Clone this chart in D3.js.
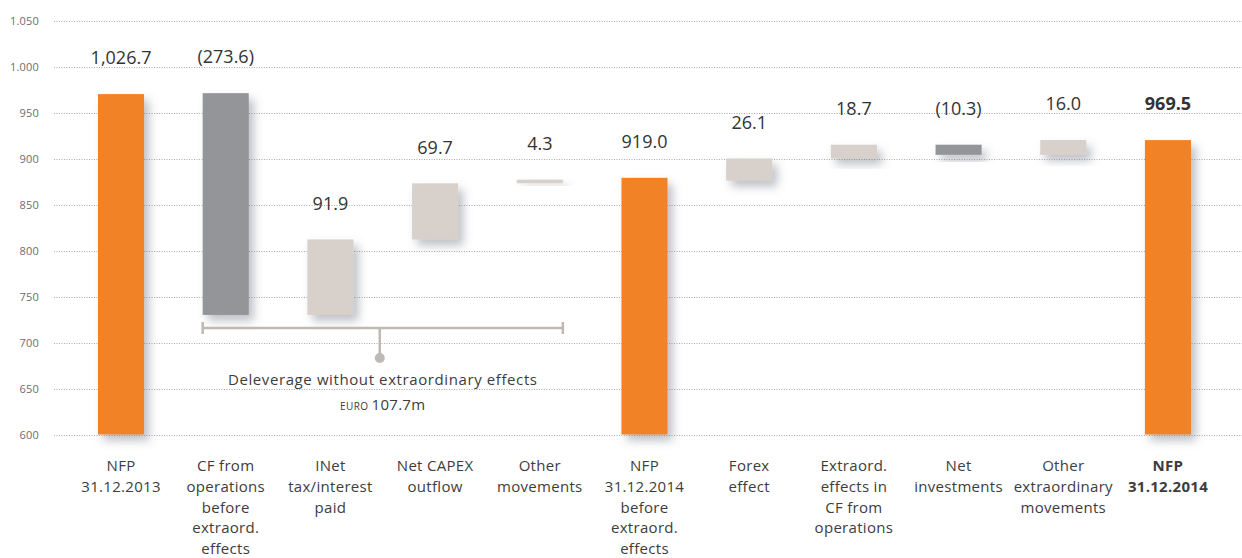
<!DOCTYPE html>
<html>
<head>
<meta charset="utf-8">
<script src="https://cdn.jsdelivr.net/npm/d3@7"></script>
<style>
  html, body { margin: 0; padding: 0; background: #fff; }
  svg { display: block; font-family: "Open Sans", sans-serif; }
</style>
</head>
<body>
<svg id="chart" width="1242" height="558"></svg>
<script>
// ---- data ----
const categories = ["NFP 31.12.2013", "CF from operations before extraord. effects", "INet tax/interest paid",
  "Net CAPEX outflow", "Other movements", "NFP 31.12.2014 before extraord. effects", "Forex effect",
  "Extraord. effects in CF from operations", "Net investments", "Other extraordinary movements", "NFP 31.12.2014"];
const categoryLines = [
  ["NFP", "31.12.2013"],
  ["CF from", "operations", "before", "extraord.", "effects"],
  ["INet", "tax/interest", "paid"],
  ["Net CAPEX", "outflow"],
  ["Other", "movements"],
  ["NFP", "31.12.2014", "before", "extraord.", "effects"],
  ["Forex", "effect"],
  ["Extraord.", "effects in", "CF from", "operations"],
  ["Net", "investments"],
  ["Other", "extraordinary", "movements"],
  ["NFP", "31.12.2014"]
];
const barLow  = [600, 730, 730, 812, 873, 600, 876, 900, 904, 904, 600];
const barHigh = [970, 971, 812, 873, 877, 879, 900, 915, 915, 920, 920];
const barKind = ["total", "negative", "positive", "positive", "positive", "total", "positive", "positive", "negative", "positive", "total"];
const valueLabels = ["1,026.7", "(273.6)", "91.9", "69.7", "4.3", "919.0", "26.1", "18.7", "(10.3)", "16.0", "969.5"];
const yTicks = [600, 650, 700, 750, 800, 850, 900, 950, 1000, 1050];
const yTickLabels = ["600", "650", "700", "750", "800", "850", "900", "950", "1.000", "1.050"];
const bracketFrom = 1, bracketTo = 4;
const bracketText = "Deleverage without extraordinary effects";
const bracketUnit = "EURO";
const bracketValue = "107.7m";

// ---- layout ----
const W = 1242, H = 558;
const svg = d3.select("#chart");
const x = d3.scaleBand().domain(categories).range([98, 1191]).paddingInner(0.56).paddingOuter(0);
const y = d3.scaleLinear().domain([600, 1050]).range([434.5, 20.5]);
const colors = { total: "#F28227", negative: "#949598", positive: "#D8D0CA" };

const defs = svg.append("defs");
const f = defs.append("filter").attr("id", "shadow").attr("x", "-50%").attr("y", "-50%").attr("width", "220%").attr("height", "220%");
f.append("feDropShadow").attr("dx", 5).attr("dy", 6).attr("stdDeviation", 5)
  .attr("flood-color", "#6f7580").attr("flood-opacity", 0.45);

// gridlines + y labels
const yAxis = d3.axisLeft(y).tickValues(yTicks).tickFormat((d, i) => yTickLabels[i]).tickSize(0).tickPadding(0);
const gy = svg.append("g").attr("transform", "translate(39,0)").call(yAxis);
gy.select(".domain").remove();
gy.selectAll("text").attr("font-size", 11).attr("fill", "#6d6d6d").attr("font-family", "Open Sans, sans-serif")
  .attr("letter-spacing", "0.2px").attr("dy", "0.35em");

svg.append("g").selectAll("line").data(yTicks).join("line")
  .attr("x1", 54).attr("x2", W)
  .attr("y1", d => Math.round(y(d)) + 0.5).attr("y2", d => Math.round(y(d)) + 0.5)
  .attr("stroke", "#a9a9a9").attr("stroke-width", 1).attr("stroke-dasharray", "1,1.5");

// bars
svg.append("g").selectAll("rect").data(categories).join("rect")
  .attr("x", d => x(d))
  .attr("width", x.bandwidth())
  .attr("y", (d, i) => y(barHigh[i]))
  .attr("height", (d, i) => y(barLow[i]) - y(barHigh[i]))
  .attr("fill", (d, i) => colors[barKind[i]])
  .attr("filter", "url(#shadow)");

// value labels
svg.append("g").selectAll("text").data(categories).join("text")
  .attr("x", d => x(d) + x.bandwidth() / 2)
  .attr("y", (d, i) => y(barHigh[i]) - 36)
  .attr("dy", "0.35em")
  .attr("text-anchor", "middle")
  .attr("font-size", 18)
  .attr("font-weight", (d, i) => i === categories.length - 1 ? 700 : 400)
  .attr("fill", "#333")
  .text((d, i) => valueLabels[i]);

// category labels
const gc = svg.append("g");
categories.forEach((c, i) => {
  const t = gc.append("text")
    .attr("x", x(c) + x.bandwidth() / 2)
    .attr("y", 471)
    .attr("text-anchor", "middle")
    .attr("font-size", 15)
    .attr("letter-spacing", "0.3px")
    .attr("font-weight", i === categories.length - 1 ? 700 : 400)
    .attr("fill", "#3d3d3d");
  categoryLines[i].forEach((ln, j) => {
    t.append("tspan").attr("x", x(c) + x.bandwidth() / 2).attr("dy", j === 0 ? 0 : 20.8).text(ln);
  });
});

// bracket annotation
const bx1 = x(categories[bracketFrom]);
const bx2 = x(categories[bracketTo]) + x.bandwidth();
const bmid = (bx1 + bx2) / 2;
const by = 328;
const bcol = "#BFB9B5";
const gb = svg.append("g").attr("stroke", bcol).attr("stroke-width", 2.5).attr("fill", "none");
gb.append("line").attr("x1", bx1).attr("x2", bx2).attr("y1", by).attr("y2", by);
gb.append("line").attr("x1", bx1).attr("x2", bx1).attr("y1", by - 6).attr("y2", by + 6);
gb.append("line").attr("x1", bx2).attr("x2", bx2).attr("y1", by - 6).attr("y2", by + 6);
gb.append("line").attr("x1", bmid - 3).attr("x2", bmid - 3).attr("y1", by).attr("y2", 357);
svg.append("circle").attr("cx", bmid - 3).attr("cy", 358).attr("r", 5).attr("fill", bcol);

svg.append("text").attr("x", bmid).attr("y", 380).attr("dy", "0.35em")
  .attr("text-anchor", "middle").attr("font-size", 15).attr("letter-spacing", "0.6px").attr("fill", "#3d3d3d")
  .text(bracketText);
const t2 = svg.append("text").attr("x", bmid).attr("y", 404).attr("dy", "0.35em")
  .attr("text-anchor", "middle").attr("fill", "#3d3d3d");
t2.append("tspan").attr("font-size", 10).attr("letter-spacing", "0.4px").text(bracketUnit + " ");
t2.append("tspan").attr("font-size", 15).attr("letter-spacing", "0.3px").text(bracketValue);
</script>
</body>
</html>
